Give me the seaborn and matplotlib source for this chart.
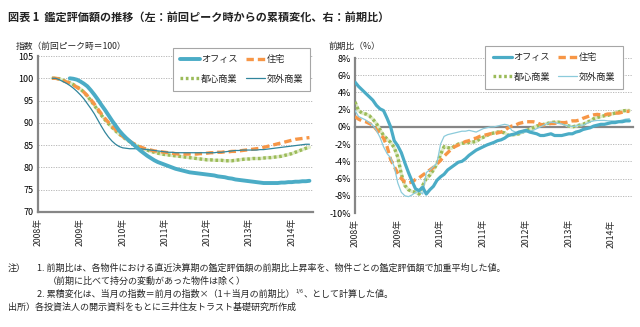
import numpy as np
import pandas as pd
import matplotlib
matplotlib.use("Agg")
import matplotlib.pyplot as plt
import seaborn as sns

sns.set_theme(style="white")
plt.rcParams['font.family'] = ['Noto Sans CJK JP', 'DejaVu Sans']

# ---------------- data ----------------
N = 78
months = np.arange(N)  # 0 = 2008-01
year_ticks = [0, 12, 24, 36, 48, 60, 72]
year_labels = ["2008年", "2009年", "2010年", "2011年", "2012年", "2013年", "2014年"]
series_names = ["オフィス", "住宅", "都心商業", "郊外商業"]

nan = np.nan
# left: index (previous peak = 100)
idx_office = [nan]*9 + [
    100.0, 99.9, 99.7, 99.3, 98.8, 98.2, 97.3, 96.3, 95.2, 94.0,
    92.9, 91.7, 90.5, 89.4, 88.3, 87.4, 86.6, 85.9, 85.2, 84.5,
    83.8, 83.2, 82.6, 82.1, 81.6, 81.2, 80.9, 80.6, 80.3, 80.0,
    79.7, 79.5, 79.3, 79.1, 78.9, 78.8, 78.7, 78.6, 78.5, 78.4,
    78.3, 78.2, 78.0, 77.9, 77.8, 77.6, 77.5, 77.3, 77.2, 77.1,
    77.0, 76.9, 76.8, 76.7, 76.6, 76.5, 76.5, 76.5, 76.5, 76.5,
    76.6, 76.6, 76.7, 76.7, 76.8, 76.8, 76.9, 76.9, 77.0]
idx_housing = [nan]*4 + [
    100.0, 100.0, 99.8, 99.5, 99.2, 98.9, 98.5, 98.0, 97.5, 96.9,
    96.1, 95.2, 94.2, 93.1, 92.0, 91.0, 90.1, 89.3, 88.5, 87.7,
    87.0, 86.4, 85.9, 85.4, 85.0, 84.6, 84.3, 84.1, 83.9, 83.7,
    83.6, 83.5, 83.4, 83.3, 83.2, 83.1, 83.0, 83.0, 83.0, 83.0,
    83.0, 83.0, 83.1, 83.1, 83.2, 83.3, 83.3, 83.4, 83.4, 83.5,
    83.5, 83.6, 83.6, 83.7, 83.8, 83.9, 84.0, 84.1, 84.2, 84.3,
    84.5, 84.7, 84.9, 85.1, 85.3, 85.5, 85.7, 85.9, 86.1, 86.3,
    86.4, 86.5, 86.6, 86.7]
idx_urban = [nan]*4 + [
    100.0, 100.0, 99.9, 99.6, 99.3, 99.0, 98.6, 98.1, 97.6, 96.9,
    96.0, 95.0, 93.9, 92.8, 91.7, 90.7, 89.8, 89.0, 88.2, 87.5,
    86.9, 86.3, 85.8, 85.3, 84.9, 84.5, 84.2, 83.9, 83.6, 83.4,
    83.2, 83.0, 82.9, 82.8, 82.7, 82.6, 82.5, 82.4, 82.3, 82.2,
    82.1, 82.0, 81.9, 81.8, 81.7, 81.7, 81.6, 81.6, 81.6, 81.5,
    81.5, 81.5, 81.6, 81.7, 81.8, 81.9, 81.9, 82.0, 82.0, 82.0,
    82.1, 82.2, 82.2, 82.3, 82.4, 82.5, 82.7, 82.9, 83.1, 83.4,
    83.7, 84.0, 84.3, 84.5]
idx_suburban = [nan]*4 + [
    100.0, 100.0, 99.7, 99.3, 98.9, 98.4, 97.8, 97.1, 96.3, 95.4,
    94.3, 93.2, 92.0, 90.6, 89.2, 87.9, 86.8, 85.9, 85.2, 84.7,
    84.4, 84.3, 84.2, 84.2, 84.2, 84.2, 84.1, 84.0, 83.9, 83.8,
    83.7, 83.6, 83.5, 83.4, 83.4, 83.3, 83.3, 83.3, 83.3, 83.3,
    83.3, 83.3, 83.3, 83.3, 83.3, 83.3, 83.3, 83.4, 83.4, 83.5,
    83.6, 83.7, 83.8, 83.8, 83.9, 83.9, 83.9, 83.9, 83.9, 84.0,
    84.0, 84.1, 84.2, 84.3, 84.4, 84.5, 84.6, 84.7, 84.8, 84.9,
    85.0, 85.1, 85.2, 85.2]

# right: change vs previous period (%)
chg_office = [
    5.2, 4.7, 4.3, 3.9, 3.5, 3.1, 2.5, 2.1, 1.9, 1.0,
    0.0, -1.6, -2.2, -3.0, -4.2, -5.3, -6.3, -7.2, -7.4, -7.0,
    -7.8, -7.3, -6.9, -6.2, -5.8, -5.5, -5.0, -4.7, -4.4, -4.1,
    -4.0, -3.7, -3.3, -3.0, -2.7, -2.5, -2.3, -2.1, -1.95, -1.8,
    -1.6, -1.5, -1.3, -1.0, -0.9, -0.8, -0.6, -0.5, -0.4, -0.6,
    -0.7, -0.8, -1.0, -1.0, -0.9, -0.8, -1.0, -1.0, -1.0, -0.9,
    -0.8, -0.8, -0.6, -0.5, -0.3, -0.2, -0.1, 0.1, 0.2, 0.3,
    0.3, 0.4, 0.5, 0.5, 0.6, 0.6, 0.7, 0.7]
chg_housing = [
    1.2, 0.9, 0.7, 0.6, 0.4, 0.2, -0.3, -0.8, -1.3, -2.3,
    -3.8, -4.6, -5.4, -6.0, -6.4, -6.5, -6.4, -6.1, -5.9, -5.6,
    -5.3, -5.0, -4.7, -4.3, -3.9, -3.4, -3.0, -2.6, -2.3, -2.1,
    -1.9, -1.7, -1.6, -1.4, -1.3, -1.1, -1.0, -0.9, -0.8, -0.8,
    -0.7, -0.6, -0.4, -0.1, 0.1, 0.2, 0.4, 0.5, 0.6, 0.6,
    0.6, 0.5, 0.3, 0.2, 0.3, 0.4, 0.4, 0.5, 0.5, 0.5,
    0.6, 0.7, 0.7, 0.8, 1.0, 1.15, 1.3, 1.4, 1.45, 1.4,
    1.4, 1.5, 1.5, 1.6, 1.6, 1.7, 1.8, 1.8]
chg_urban = [
    2.9, 1.9, 1.6, 1.5, 1.3, 0.9, 0.4, -0.3, -1.0, -1.4,
    -1.8, -2.4, -3.5, -5.5, -6.8, -7.3, -7.5, -7.6, -7.8, -6.8,
    -6.0, -5.6, -5.0, -4.3, -3.2, -2.3, -2.4, -2.5, -2.2, -2.0,
    -1.9, -1.9, -1.8, -1.75, -1.7, -1.4, -1.2, -1.0, -0.8, -0.7,
    -0.6, -0.6, -0.7, -1.0, -0.9, -0.9, -0.8, -0.6, -0.4, -0.3,
    -0.1, 0.1, 0.2, 0.3, 0.4, 0.5, 0.55, 0.55, 0.5, 0.3,
    0.1, 0.0, 0.1, 0.2, 0.3, 0.5, 0.7, 0.95, 1.1, 1.2,
    1.3, 1.35, 1.5, 1.6, 1.75, 1.85, 1.9, 1.9]
chg_suburban = [
    1.9, 1.2, 1.0, 0.8, 0.5, 0.2, -0.4, -1.2, -2.3, -3.1,
    -3.6, -4.6, -6.5, -7.6, -8.0, -8.1, -7.9, -7.6, -7.5, -7.8,
    -5.3, -5.0, -4.6, -4.2, -2.0, -1.1, -0.9, -0.8, -0.7, -0.6,
    -0.5, -0.5, -0.4, -0.5, -0.6, -0.4, -0.2, -0.1, 0.0, 0.0,
    0.1, 0.2, 0.3, 0.2, -0.4, -0.6, -0.8, -0.7, -0.6, -0.5,
    -0.4, -0.2, 0.0, 0.2, 0.4, 0.55, 0.5, 0.4, 0.35, 0.2,
    0.1, 0.05, 0.1, 0.2, 0.2, 0.4, 0.6, 0.7, 0.75, 0.75,
    0.75, 0.7, 0.7, 0.7, 0.7, 0.8, 0.9, 0.95]

# ---------------- styles ----------------
C_OFF = "#4BACC6"
C_HOU = "#F79646"
C_URB = "#9BBB59"
C_SUB_L = "#31859C"
C_SUB_R = "#8CCBDB"
GRID = "#B0B0B0"
AX = "#868686"

fig = plt.figure(figsize=(6.4, 3.27), dpi=100)
fig.patch.set_facecolor("white")

axL = fig.add_axes([0.0594, 0.3517, 0.4296, 0.4770])
axR = fig.add_axes([0.5547, 0.3486, 0.4343, 0.4740])


def draw(ax, office, housing, urban, suburban, sub_color, off_lw):
    sns.lineplot(x=months, y=np.array(urban), ax=ax, color="#E0EBC8", lw=2.4,
                 legend=False, zorder=2)
    l_urb = sns.lineplot(x=months, y=np.array(urban), ax=ax, color=C_URB, lw=2.4,
                         legend=False, zorder=3).lines[-1]
    l_urb.set_dashes((0.8, 0.8))
    l_hou = sns.lineplot(x=months, y=np.array(housing), ax=ax, color=C_HOU, lw=2.4,
                         legend=False, zorder=4).lines[-1]
    l_hou.set_dashes((2.2, 1.2))
    l_sub = sns.lineplot(x=months, y=np.array(suburban), ax=ax, color=sub_color, lw=0.9,
                         legend=False, zorder=5).lines[-1]
    l_off = sns.lineplot(x=months, y=np.array(office), ax=ax, color=C_OFF, lw=off_lw,
                         legend=False, zorder=6).lines[-1]
    handles = [l_off, l_urb, l_hou, l_sub]
    labels = [series_names[0], series_names[2], series_names[1], series_names[3]]
    return handles, labels


hL, lL = draw(axL, idx_office, idx_housing, idx_urban, idx_suburban, C_SUB_L, 2.8)
hR, lR = draw(axR, chg_office, chg_housing, chg_urban, chg_suburban, C_SUB_R, 2.3)

# right axis: x axis crosses at zero (set before tick formatting)
axR.set_ylim(-10, 8)
axR.spines['bottom'].set_position(('data', 0))
axL.set_ylim(70, 105)

for ax in (axL, axR):
    ax.set_xlim(0, 78)
    ax.set_xlabel("")
    ax.set_ylabel("")
    ax.spines['top'].set_visible(False)
    ax.spines['right'].set_visible(False)
    for s in ('left', 'bottom'):
        ax.spines[s].set_color(AX)
        ax.spines[s].set_linewidth(1.6)
    ax.set_facecolor("white")

# left axis
axL.set_yticks(np.arange(70, 106, 5))
for v in np.arange(75, 106, 5):
    axL.axhline(v, color=GRID, lw=0.6, ls=(0, (1.5, 1.5)), zorder=0)

# right axis
yt = np.arange(-10, 9, 2)
axR.set_yticks(yt)
axR.set_yticklabels([f"{v}%" for v in yt])
for v in yt:
    if v != 0:
        axR.axhline(v, color=GRID, lw=0.6, ls=(0, (1.5, 1.5)), zorder=0)
axR.spines['bottom'].set_zorder(1)

for ax, pad in ((axL, 1.5), (axR, 63.5)):
    ax.set_xticks(year_ticks)
    ax.set_xticklabels(year_labels, rotation=90, fontsize=6.3)
    ax.tick_params(axis='y', labelsize=6.5, length=0, pad=3, colors="#000000")
    ax.tick_params(axis='x', direction='out', length=3, width=1, color=AX, pad=pad,
                   labelsize=6.3, labelrotation=90)

# legends
common = dict(ncol=2, fontsize=6.6, frameon=True, fancybox=False, borderpad=0.8,
              handlelength=2.1, handletextpad=0.15, columnspacing=0.9,
              labelspacing=1.15, loc='upper right')
legL = axL.legend(hL, lL, bbox_to_anchor=(0.492, 0.868),
                  bbox_transform=fig.transFigure, **common)
legR = axR.legend(hR, lR, bbox_to_anchor=(0.98, 0.8746),
                  bbox_transform=fig.transFigure, **common)
for lg in (legL, legR):
    lg.get_frame().set_edgecolor("#A6A6A6")
    lg.get_frame().set_linewidth(0.8)
    lg.get_frame().set_alpha(1.0)

# titles / labels
fig.text(0.012, 0.948, "図表 1  鑑定評価額の推移（左：前回ピーク時からの累積変化、右：前期比）",
         fontsize=8, va='center', ha='left', fontweight='bold', color="#222222")
fig.text(0.025, 0.858, "指数（前回ピーク時＝100）", fontsize=6.3, va='center', ha='left')
fig.text(0.513, 0.858, "前期比（%）", fontsize=6.3, va='center', ha='left')

# notes
fs = 6.5
fig.text(0.012, 0.180, "注）", fontsize=fs, va='center', ha='left')
fig.text(0.058, 0.180, "1. 前期比は、各物件における直近決算期の鑑定評価額の前期比上昇率を、物件ごとの鑑定評価額で加重平均した値。",
         fontsize=fs, va='center', ha='left')
fig.text(0.075, 0.140, "（前期に比べて持分の変動があった物件は除く）", fontsize=fs, va='center', ha='left')
t1 = fig.text(0.058, 0.100, "2. 累積変化は、当月の指数＝前月の指数×（1＋当月の前期比）",
              fontsize=fs, va='center', ha='left')
t2 = fig.text(0, 0, "1/6", fontsize=3.8, va='top', ha='left')
fig.canvas.draw()
bb = t1.get_window_extent()
inv = fig.transFigure.inverted()
x1, y1 = inv.transform((bb.x1, bb.y1))
t2.set_position((x1 + 0.001, y1 + 0.002))
fig.canvas.draw()
bb2 = t2.get_window_extent()
x2, _ = inv.transform((bb2.x1, bb2.y1))
fig.text(x2 + 0.001, 0.100, "、として計算した値。", fontsize=fs, va='center', ha='left')
fig.text(0.012, 0.060, "出所）各投資法人の開示資料をもとに三井住友トラスト基礎研究所作成",
         fontsize=fs, va='center', ha='left')

fig.savefig("out.png", dpi=100, facecolor="white")
